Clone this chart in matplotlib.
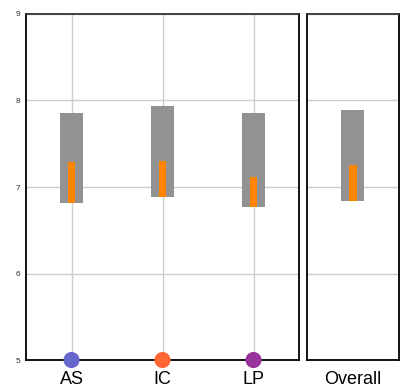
import matplotlib.pyplot as plt

# Group scores: full range (gray) and inner range (orange)
categories = ["AS", "IC", "LP"]
range_low = [6.82, 6.89, 6.77]
range_high = [7.86, 7.94, 7.86]
inner_high = [7.29, 7.30, 7.11]
marker_colors = ["#6666cc", "#ff6633", "#993399"]

overall_label = "Overall"
overall_low = 6.84
overall_high = 7.89
overall_inner_high = 7.25

y_ticks = [5, 6, 7, 8, 9]

GRAY = "#929292"
ORANGE = "#ff8400"
GRID = "#cccccc"

plt.rcParams["font.family"] = ["Liberation Sans", "DejaVu Sans"]

fig = plt.figure(figsize=(4.04, 3.92), dpi=100)
ax = fig.add_axes([0.0644, 0.0816, 0.6757, 0.8827])
ax2 = fig.add_axes([0.7599, 0.0816, 0.2277, 0.8827])


def style_axes(a, xs, labels, vgrid):
    a.set_ylim(5, 9)
    a.set_yticks(y_ticks)
    a.set_xticks(xs)
    a.set_xticklabels(labels, fontsize=13)
    a.tick_params(axis="both", length=0)
    a.tick_params(axis="x", pad=8, colors="black")
    a.grid(axis="y", color=GRID, linewidth=1)
    if vgrid:
        a.grid(axis="x", color=GRID, linewidth=1)
    a.set_axisbelow(True)
    for s in a.spines.values():
        s.set_color("black")
        s.set_linewidth(1.3)
    a.spines["top"].set_color("#333333")


# Left panel: per-category bars
xs = list(range(len(categories)))
style_axes(ax, xs, categories, True)
ax.set_xlim(-0.5, len(categories) - 0.5)
ax.tick_params(axis="y", labelsize=6, colors="#333333", pad=4)
ax.bar(xs, [h - l for h, l in zip(range_high, range_low)], bottom=range_low,
       width=0.25, color=GRAY, zorder=2)
ax.bar(xs, [h - l for h, l in zip(inner_high, range_low)], bottom=range_low,
       width=0.085, color=ORANGE, zorder=3)
ax.scatter(xs, [5] * len(xs), s=135, c=marker_colors, marker="o",
           clip_on=False, zorder=5, linewidths=0)

# Right panel: overall
style_axes(ax2, [0], [overall_label], False)
ax2.set_xlim(-0.5, 0.5)
ax2.set_yticklabels([])
ax2.bar([0], [overall_high - overall_low], bottom=overall_low,
        width=0.25, color=GRAY, zorder=2)
ax2.bar([0], [overall_inner_high - overall_low], bottom=overall_low,
        width=0.08, color=ORANGE, zorder=3)

fig.savefig("out.png", dpi=100)
